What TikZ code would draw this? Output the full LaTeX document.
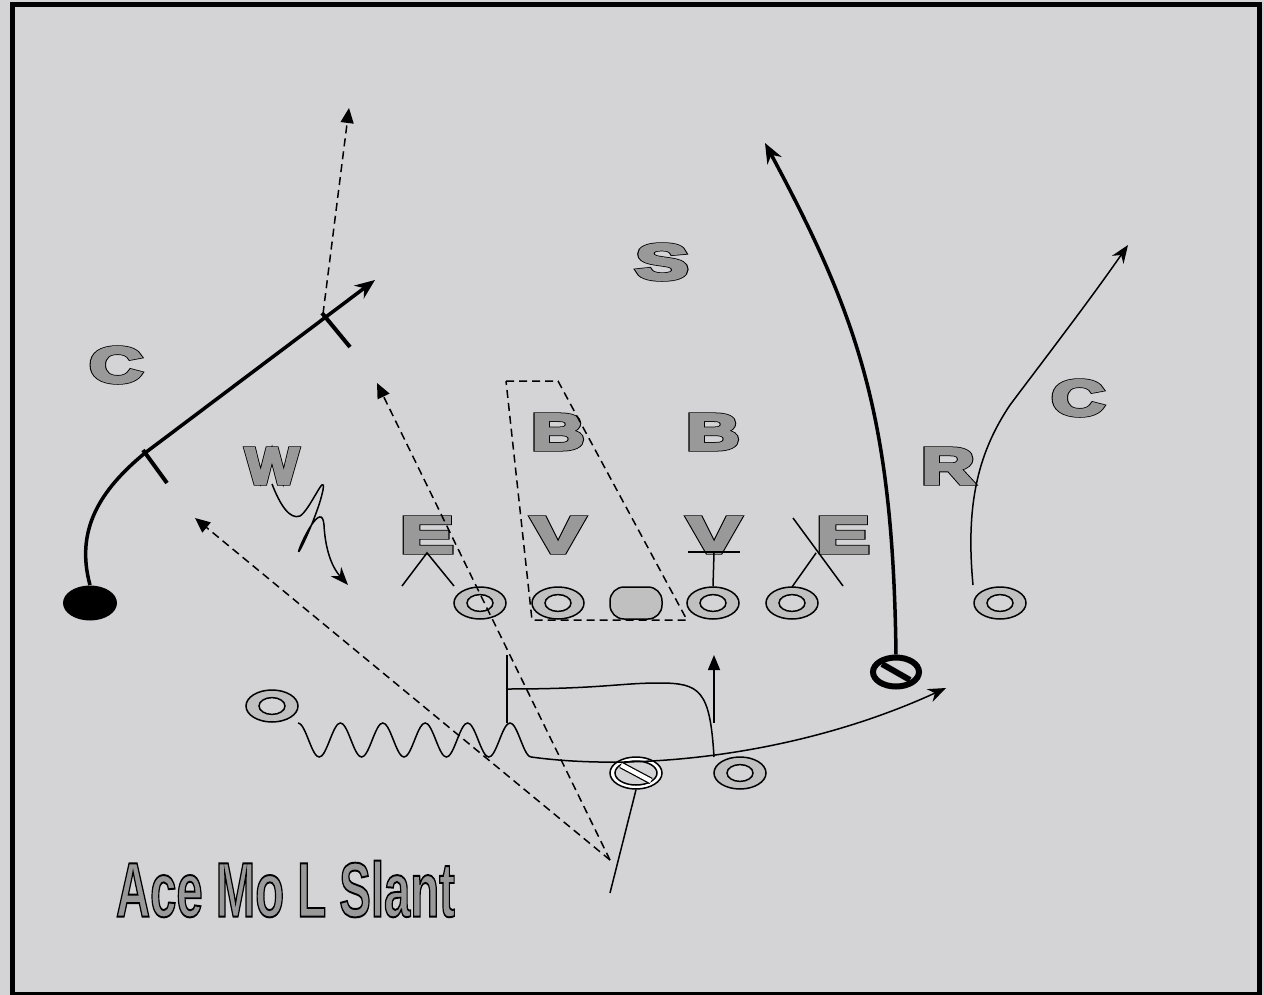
\documentclass[tikz,border=0pt]{standalone}
\usepackage{fontspec}
\usepackage{tikz}
\usetikzlibrary{arrows.meta,shapes.geometric}
\newfontfamily\lettedge{Liberation Sans Bold}[FakeBold=8]
\newfontfamily\lettfill{Liberation Sans Bold}[FakeBold=5]
\newfontfamily\titfont{Liberation Sans Bold}[FakeBold=2.5]
\definecolor{fieldgray}{HTML}{D4D4D6}
\definecolor{lettgray}{HTML}{999999}
\definecolor{plgray}{HTML}{C0C0C0}
% grey fill, black stroke for the emboldened glyphs
\newcommand{\outl}[1]{\special{pdf:bcolor [0.6] [0]}#1\special{pdf:ecolor}}
\newcommand{\dlet}[1]{\resizebox{26.5pt}{17.5pt}{\rlap{\color{black}\lettedge #1}\color{lettgray}\lettfill #1}}
\tikzset{
  dman/.style={inner sep=0pt},
  oman/.style={ellipse, draw=black, line width=0.75pt, fill=plgray, minimum width=26pt, minimum height=16pt, inner sep=0pt,
    path picture={\draw[line width=0.75pt, fill=fieldgray] (path picture bounding box.center) ellipse (6.5pt and 4.2pt);}},
  blk/.style={line width=0.75pt},
  rte/.style={line width=0.75pt, -{Stealth[length=9pt,width=7pt]}},
  rtk/.style={line width=1.75pt, -{Stealth[length=10pt,width=8pt]}},
  pass/.style={line width=0.75pt, dash pattern=on 4pt off 2.5pt, -{Triangle[length=7.5pt,width=6.5pt]}}
}
\begin{document}
\begin{tikzpicture}[x=0.5pt,y=-0.5pt]
\useasboundingbox (0,0) rectangle (1264,995);
\fill[fieldgray] (0,0) rectangle (1264,995);
\draw[line width=2.5pt] (12,5) rectangle (1259,994);

% defence
\node[dman] (cl) at (116,365) {\dlet{C}};
\node[dman] (ss) at (662,262) {\dlet{S}};
\node[dman] (bl) at (558,432) {\dlet{B}};
\node[dman] (br) at (713,432) {\dlet{B}};
\node[dman] (vl) at (558,535) {\dlet{V}};
\node[dman] (vr) at (714,535) {\dlet{V}};
\node[dman] (el) at (427,535) {\dlet{E}};
\node[dman] (er) at (843,535) {\dlet{E}};
\node[dman] (ww) at (272,466) {\dlet{W}};
\node[dman] (rr) at (948,466) {\dlet{R}};
\node[dman] (cr) at (1078,398) {\dlet{C}};

% offence
\node[oman] (tkl) at (480,603) {};
\node[oman] (gdl) at (558,603) {};
\node[draw, line width=0.75pt, fill=plgray, rounded corners=7pt, minimum width=26pt, minimum height=16pt, inner sep=0pt] (cc) at (636,603) {};
\node[oman] (gdr) at (713,603) {};
\node[oman] (tkr) at (792,603) {};
\node[oman] (wrr) at (1000,603) {};
\node[oman] (slot) at (272,706) {};
\node[oman] (hb) at (740,773) {};
\node[ellipse, fill=black, minimum width=27pt, minimum height=17.5pt, inner sep=0pt] (wrl) at (90,603) {};
\node[ellipse, draw, line width=0.75pt, fill=white, minimum width=26pt, minimum height=16pt, inner sep=0pt] (qb) at (636,773) {};
\draw[blk, fill=fieldgray] (qb.center) ellipse (10.5pt and 6pt);
\draw[line width=0.6pt, double=white, double distance=2.2pt] ([shift={(-15,-8)}]qb.center) -- ([shift={(15,8)}]qb.center);
\node[ellipse, draw, line width=3pt, minimum width=23pt, minimum height=14.5pt, inner sep=0pt] (te) at (896,672) {};
\draw[line width=3pt] ([shift={(-14,-8)}]te.center) -- ([shift={(14,8)}]te.center);

% reads and blocks
\draw[blk] (402,586) -- (el.south) -- (454,586);
\draw[blk] (793,518) -- (843,586);
\draw[blk] (er.south west) -- (792,587);
\draw[blk] (688,552) -- (740,552);
\draw[blk] (vr.south) -- (gdr.north);
\draw[blk, dash pattern=on 4pt off 2.5pt] (506,381) -- (558,381) -- (687,620) -- (532,620) -- cycle;

% routes
\draw[rtk] (wrl.north) .. controls (75,530) and (100,490) .. (145,453) -- (375,280);
\draw[line width=2pt] (143,450) -- (167,483);
\draw[line width=2pt] (322,313) -- (350,347);
\draw[pass] (323,314) -- (349,108);
\draw[rte] (ww.south) .. controls (280,505) and (290,520) .. (300,516) .. controls (310,510) and (326,470) .. (323,490)
  .. controls (318,515) and (296,560) .. (299,550) .. controls (302,540) and (322,500) .. (324,525)
  .. controls (325,545) and (330,565) .. (348,585);
\draw[rte] plot[domain=0:5.5, samples=100, smooth, variable=\t] ({298+42.4*\t},{740-17*cos(360*\t)})
  .. controls (640,772) and (800,755) .. (946,688);
\draw[blk] (714,757) .. controls (710,690) and (700,683) .. (659,683) .. controls (620,683) and (600,689) .. (507,689);
\draw[blk] (507,655) -- (507,723);
\draw[blk, -{Triangle[length=7.5pt,width=6pt]}] (714,723) -- (714,655);
\draw[rtk] (te.north) .. controls (893,420) and (860,320) .. (765,143);
\draw[rte] (973,585) .. controls (965,500) and (980,450) .. (1010,405) .. controls (1040,365) and (1090,300) .. (1128,245);

% quarterback
\draw[blk] (qb.south) -- (610,893);
\coordinate (rel) at (610,860);
\draw[pass] (rel) -- (195,518);
\draw[pass] (rel) -- (377,383);

\node[dman] (ttl) at (285.5,889) {\resizebox{169.5pt}{28pt}{\outl{\titfont Ace Mo L Slant}}};
\end{tikzpicture}
\end{document}
